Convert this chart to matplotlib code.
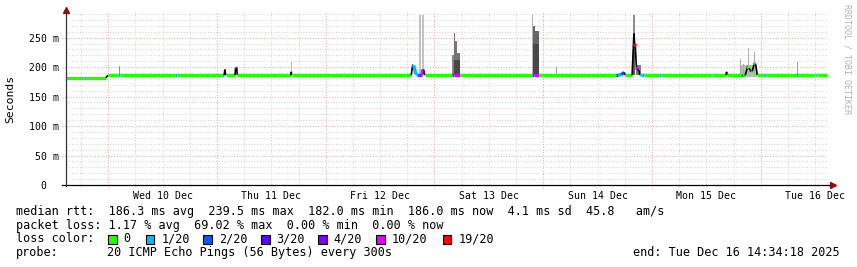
import numpy as np
import matplotlib
matplotlib.use("Agg")
import matplotlib.pyplot as plt
from matplotlib.collections import LineCollection

plt.rcParams['font.family'] = ['DejaVu Sans Mono']

# time axis: hours since window start (Tue 09 Dec 14:34:18 -> Tue 16 Dec 14:34:18)
span_hours = 168.0
first_midnight = 9 + 25 / 60 + 42 / 3600  # Wed 10 Dec 00:00
day_labels = ['Wed 10 Dec', 'Thu 11 Dec', 'Fri 12 Dec', 'Sat 13 Dec',
              'Sun 14 Dec', 'Mon 15 Dec', 'Tue 16 Dec']

# y axis (ms)
y_ticks = [0, 50, 100, 150, 200, 250]
y_labels = ['0  ', '50 m', '100 m', '150 m', '200 m', '250 m']

# median rtt: point time (h), value (ms), loss class of segment starting here
med_t = [0.0, 4.0, 4.5, 8.9, 9.35, 11.5, 12.0, 24.1, 24.6, 34.6, 35.0, 35.15,
         35.35, 37.4, 37.5, 37.75, 37.9, 49.7, 49.8, 49.9,
         76.3, 76.55, 76.85, 77.3, 77.6, 78.1, 78.5, 78.7, 78.85, 79.0, 79.3,
         85.4, 85.7, 87.0,
         102.85, 103.3, 104.45,
         121.6, 121.9, 122.6, 123.3, 123.5,
         125.05, 125.3, 125.45, 125.6, 125.75, 126.0, 126.2, 126.55, 126.75,
         127.0, 127.15, 127.6,
         130.9, 131.5, 142.4, 142.7, 145.8, 145.9, 146.0,
         148.6, 149.3, 149.5, 150.0, 150.6, 150.85, 151.35, 151.55, 152.05,
         152.3, 152.7,
         154.2, 154.7, 161.5, 161.75, 165.1, 165.5, 165.8, 166.1, 168.0]
med_v = [182.0, 182.0, 182.0, 182.0, 186.3, 186.3, 186.3, 186.3, 186.3, 186.3, 186.3, 196.0,
         186.3, 186.3, 198.0, 198.0, 186.3, 186.3, 192.0, 186.3,
         186.3, 201.0, 203.0, 188.0, 187.0, 187.0, 187.0, 187.0, 196.0, 196.0, 186.3,
         186.3, 186.3, 186.3,
         186.3, 186.3, 186.3,
         186.3, 186.3, 187.0, 191.0, 186.3,
         186.3, 232.0, 257.0, 240.0, 235.0, 200.0, 196.0, 194.0, 187.0,
         186.3, 186.3, 186.3,
         186.3, 186.3, 186.3, 186.3, 186.3, 192.0, 186.3,
         186.3, 186.3, 185.0, 186.0, 202.0, 198.0, 192.0, 193.0, 207.0,
         205.0, 186.3,
         186.3, 186.3, 186.3, 186.3, 186.3, 186.3, 186.3, 186.3, 186.3]
med_loss = ['0', '1/20', '0', 'k', '0', '1/20', '0', '1/20', '0', '1/20', 'k', 'k',
            '0', 'k', '3/20', 'k', '0', 'k', 'k', '0',
            'k', '2/20', '1/20', '1/20', '2/20', '3/20', '2/20', '10/20', '10/20', 'k', '0',
            '2/20', '10/20', '0',
            '2/20', '10/20', '0',
            '3/20', '1/20', '2/20', 'k', '0',
            'k', 'k', 'k', '19/20', 'k', '10/20', 'k', 'k', '1/20',
            '2/20', '1/20', '0',
            '1/20', '0', '1/20', '0', 'k', 'k', '0',
            '0', 'k', '0', 'k', '0', 'k', '0', 'k', '0',
            'k', '0',
            '1/20', '0', '2/20', '0', '1/20', '0', '1/20', '0', '0']

# smoke (spread of the 20 pings): start h, end h, low ms, high ms, pings in band
smoke_t0 = [11.8, 49.8, 78.1, 78.75, 85.35, 85.7, 86.05, 86.4, 85.7,
            103.0, 103.25, 103.6, 103.75, 104.0, 103.25, 108.3, 125.3, 125.35, 126.0,
            149.0, 148.95, 149.55, 150.55, 151.9, 161.55]
smoke_t1 = [11.95, 49.95, 78.5, 79.2, 85.7, 86.05, 86.4, 87.0, 87.0,
            103.25, 103.6, 104.0, 103.85, 104.45, 104.45, 108.45, 125.75, 125.7, 126.9,
            152.6, 149.1, 149.7, 150.8, 152.15, 161.7]
smoke_lo = [186, 186, 187, 187, 186, 186, 186, 186, 186,
            186, 186, 186, 186, 186, 186, 186, 186, 186, 186,
            184, 186, 186, 186, 186, 186]
smoke_hi = [202, 209, 288, 288, 220, 258, 245, 224, 212,
            288, 270, 262, 282, 261, 240, 201, 288, 258, 203,
            204, 213, 206, 232, 226, 209]
smoke_n = [8, 3, 2, 2, 10, 12, 12, 12, 18,
           4, 14, 14, 8, 14, 18, 6, 9, 15, 11,
           3, 5, 5, 4, 5, 7]

loss_names = ['0', '1/20', '2/20', '3/20', '4/20', '10/20', '19/20']
loss_colors = ['#26ff00', '#00b8ff', '#0059ff', '#5e00ff', '#7e00ff', '#dd00ff', '#ff0000']

legend_rtt = ('median rtt:  186.3 ms avg  239.5 ms max  182.0 ms min  '
              '186.0 ms now  4.1 ms sd  45.8   am/s')
legend_loss = 'packet loss: 1.17 % avg  69.02 % max  0.00 % min  0.00 % now'
probe_text = '20 ICMP Echo Pings (56 Bytes) every 300s'
end_text = 'end: Tue Dec 16 14:34:18 2025'

W, H = 857, 267
fig = plt.figure(figsize=(W / 100, H / 100), dpi=100)
fig.patch.set_facecolor('white')
ax = fig.add_axes([65.6 / W, (H - 185) / H, 761.1 / W, 173 / H])
ax.set_xlim(0, span_hours)
ax.set_ylim(0, 293.5)
for s in ax.spines.values():
    s.set_visible(False)

# grid
minor_col, major_col = '#d2d2d2', '#f0a0a0'
dots = (0, (1, 1.8))
for v in range(10, 291, 10):
    if v % 50:
        ax.plot([0, span_hours], [v, v], color=minor_col, lw=0.7, ls=dots, zorder=0.5)
    else:
        ax.plot([-0.7, span_hours], [v, v], color=major_col, lw=0.7, ls=dots,
                zorder=0.5, clip_on=False)
for h in np.arange(first_midnight - 18, span_hours, 6):
    if h <= 0:
        continue
    if abs((h - first_midnight) % 24) < 1e-6:
        ax.plot([h, h], [-5, 293.5], color=major_col, lw=0.7, ls=dots,
                zorder=0.5, clip_on=False)
    else:
        ax.plot([h, h], [-3.5, 293.5], color=minor_col, lw=0.7, ls=dots,
                zorder=0.5, clip_on=False)

# smoke
for t0, t1, lo, hi, n in zip(smoke_t0, smoke_t1, smoke_lo, smoke_hi, smoke_n):
    g = 0.82 - 0.6 * n / 20
    ax.bar(t0, hi - lo, width=t1 - t0, bottom=lo, align='edge',
           color=(g, g, g), linewidth=0, zorder=1)

# median line coloured by loss
cmap = dict(zip(loss_names, loss_colors))
segs, cols, lws = [], [], []
for i in range(len(med_t) - 1):
    segs.append([(med_t[i], med_v[i]), (med_t[i + 1], med_v[i + 1])])
    key = med_loss[i]
    if key == 'k':
        cols.append('black')
        lws.append(1.2)
    else:
        cols.append(cmap[key])
        lws.append(2.4)
ax.add_collection(LineCollection(segs, colors=cols, linewidths=lws,
                                 capstyle='butt', zorder=3))

# axes lines + arrows
ax.plot([-0.7, 169.0], [0, 0], color='black', lw=0.9, clip_on=False, zorder=4)
ax.plot([0, 0], [-2, 296], color='#333333', lw=0.9, clip_on=False, zorder=4)
ax.plot([169.3], [0], marker='>', ms=4.5, color='#8b1010', clip_on=False, zorder=5)
ax.plot([0], [297], marker='^', ms=4.5, color='#8b1010', clip_on=False, zorder=5)

# ticks
ax.set_xticks([first_midnight + 12 + 24 * k for k in range(7)])
ax.set_xticklabels(day_labels, fontsize=7.1)
ax.set_yticks(y_ticks)
ax.set_yticklabels(y_labels, fontsize=7.1)
ax.tick_params(axis='x', length=0, pad=4.5)
ax.tick_params(axis='y', length=0, pad=4.5)

fig.text(10 / W, 1 - 99 / H, 'Seconds', rotation=90, fontsize=8.2,
         ha='center', va='center')
fig.text(847 / W, 1 - 4 / H, 'RRDTOOL / TOBI OETIKER', rotation=-90, fontsize=6.0,
         color='#b0b0b0', ha='center', va='top')

# legend block
fs = 8.5
fig.text(16 / W, 1 - 211.5 / H, legend_rtt, fontsize=fs, va='center')
fig.text(16 / W, 1 - 225 / H, legend_loss, fontsize=fs, va='center')
fig.text(16 / W, 1 - 239 / H, 'loss color:', fontsize=fs, va='center')
box_x = [108, 145.7, 203.3, 261, 318.3, 376, 442.7]
for bx, name, col in zip(box_x, loss_names, loss_colors):
    fig.patches.append(plt.Rectangle((bx / W, 1 - 243.5 / H), 8.5 / W, 8.5 / H,
                                     transform=fig.transFigure, facecolor=col,
                                     edgecolor='black', linewidth=0.8))
    fig.text((bx + 15.5) / W, 1 - 239 / H, name, fontsize=fs, va='center')
fig.text(16 / W, 1 - 252.5 / H, 'probe:', fontsize=fs, va='center')
fig.text(107.3 / W, 1 - 252.5 / H, probe_text, fontsize=fs, va='center')
fig.text(840 / W, 1 - 252.5 / H, end_text, fontsize=fs, va='center', ha='right')

fig.savefig('out.png', dpi=100)
